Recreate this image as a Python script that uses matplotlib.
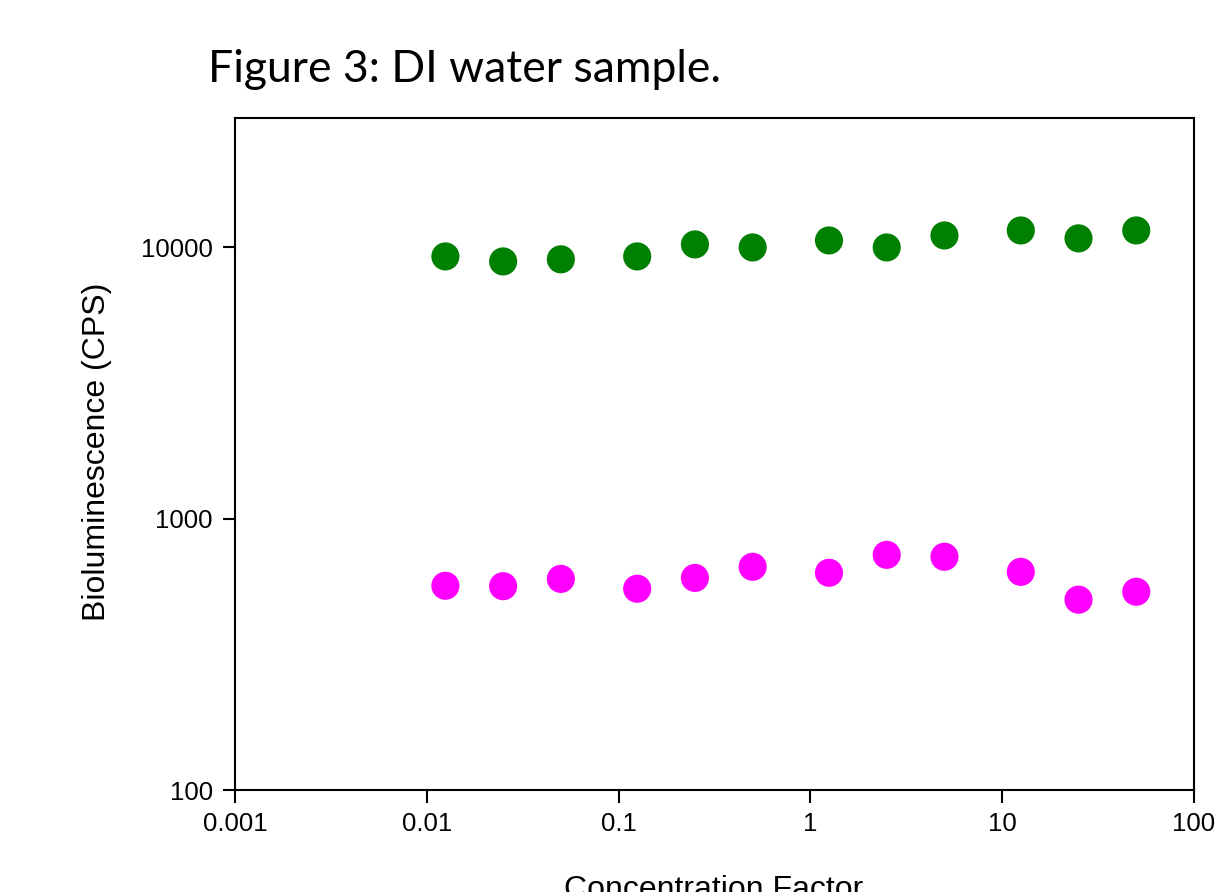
import matplotlib
matplotlib.use("Agg")
import matplotlib.pyplot as plt
from matplotlib.ticker import NullLocator, FixedFormatter, FixedLocator

# Datos
concentracion = [0.0125, 0.025, 0.05, 0.125, 0.25, 0.5, 1.25, 2.5, 5, 12.5, 25, 50]
serie_verde = [9265, 8880, 9040, 9265, 10260, 10000, 10610, 10000, 11070, 11550, 10800, 11550]
serie_magenta = [566, 564, 600, 552, 605, 665, 632, 736, 724, 637, 503, 538]

x_ticks = [0.001, 0.01, 0.1, 1, 10, 100]
x_labels = ["0.001", "0.01", "0.1", "1", "10", "100"]
y_ticks = [100, 1000, 10000]
y_labels = ["100", "1000", "10000"]

W, H = 1216, 892
fig = plt.figure(figsize=(W / 100, H / 100), dpi=100)
ax = fig.add_axes([235 / W, 1 - 790 / H, (1194 - 235) / W, (790 - 118) / H])

ax.scatter(concentracion, serie_verde, s=410, color="#008000", edgecolors="none", zorder=3)
ax.scatter(concentracion, serie_magenta, s=410, color="#FF00FF", edgecolors="none", zorder=3)

ax.set_xscale("log")
ax.set_yscale("log")
ax.set_xlim(0.001, 100)
ax.set_ylim(100, 30000)

ax.xaxis.set_major_locator(FixedLocator(x_ticks))
ax.xaxis.set_major_formatter(FixedFormatter(x_labels))
ax.xaxis.set_minor_locator(NullLocator())
ax.yaxis.set_major_locator(FixedLocator(y_ticks))
ax.yaxis.set_major_formatter(FixedFormatter(y_labels))
ax.yaxis.set_minor_locator(NullLocator())

fuente = "Liberation Sans"
ax.tick_params(axis="both", direction="out", length=9, width=1.5, labelsize=18.5,
               pad=7, color="black")
for lbl in ax.get_xticklabels() + ax.get_yticklabels():
    lbl.set_fontfamily(fuente)
for sp in ax.spines.values():
    sp.set_linewidth(1.5)

fig.text(97 / W, 1 - 452 / H, "Bioluminescence (CPS)", rotation=90, ha="center", va="center",
         fontsize=23, family=fuente)
fig.text(714 / W, -6 / H, "Concentration Factor", ha="center", va="baseline",
         fontsize=23, family=fuente)
fig.text(208 / W, 1 - 82 / H, "Figure 3: DI water sample.", ha="left", va="baseline",
         fontsize=32, family="Lato")

fig.savefig("out.png", dpi=100)
